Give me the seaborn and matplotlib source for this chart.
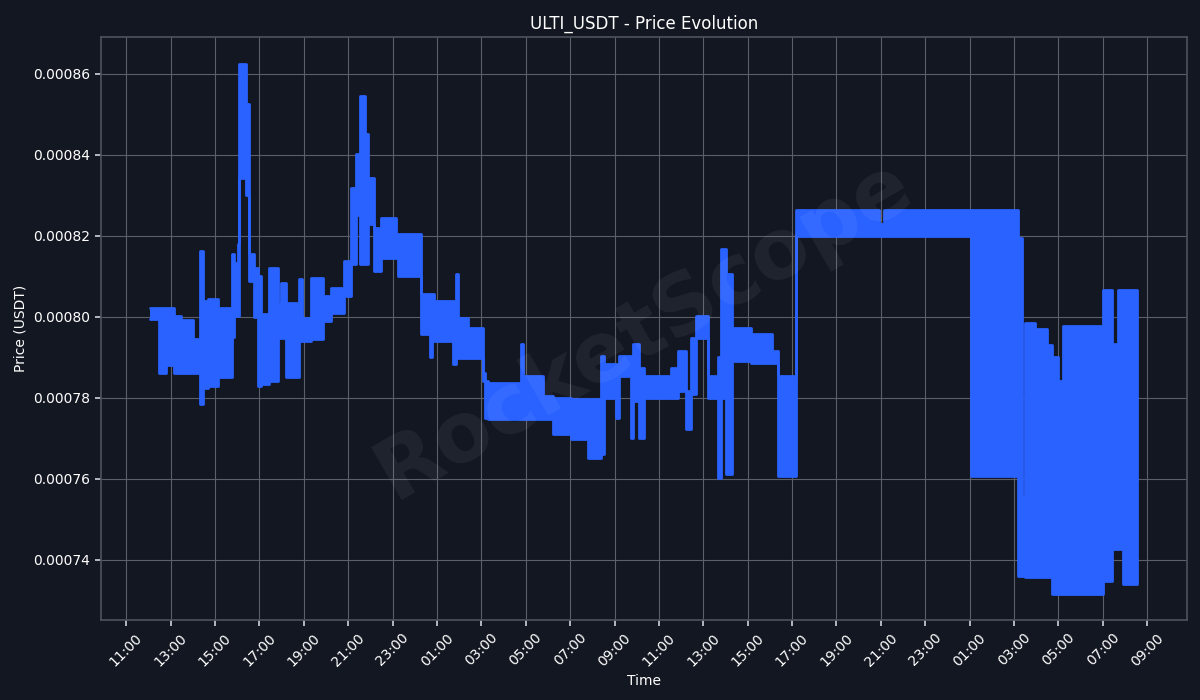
import matplotlib.pyplot as plt
import matplotlib.dates as mdates
import numpy as np
import pandas as pd
import seaborn as sns

# price ranges: each step starts at `hours` (after 11:00 on day 1)
# and the price swings between `low_micro` and `high_micro` (in 1e-6 USDT) until the next step
hours = [1.08, 1.49, 1.80, 2.16, 2.48, 3.02, 3.33, 3.45, 3.69, 4.14,
         4.77, 4.86, 5.05, 5.09, 5.31, 5.40, 5.54, 5.76, 5.94, 6.08,
         6.44, 6.84, 6.98, 7.20, 7.79, 7.92, 8.33, 8.87, 9.23, 9.81,
         10.13, 10.35, 10.53, 10.76, 10.89, 11.16, 11.48, 12.15, 12.24, 13.28,
         13.68, 13.77, 13.86, 14.72, 14.85, 14.94, 15.39, 16.07, 16.16, 16.30,
         17.78, 17.87, 18.77, 19.22, 20.03, 20.80, 21.38, 21.52, 22.06, 22.20,
         22.74, 22.82, 23.09, 23.32, 24.53, 24.85, 25.21, 25.43, 25.66, 26.20,
         26.65, 26.78, 27.01, 27.28, 28.13, 29.08, 29.35, 30.16, 33.90, 34.12,
         38.04, 40.20, 40.38, 40.51, 40.96, 41.50, 41.73, 42.00, 42.22, 44.02,
         44.43, 44.70, 44.92, 45.56]
low_micro = [799.5, 786.0, 788.0, 786.0, 786.0, 786.0, 778.5, 782.5, 783.0, 785.0,
             795.0, 800.2, 800.2, 834.3, 838.0, 830.0, 808.9, 800.0, 783.0, 783.5,
             784.2, 794.8, 794.8, 785.0, 794.0, 794.1, 794.6, 799.0, 801.0, 805.0,
             813.0, 825.0, 813.1, 813.0, 823.0, 811.4, 814.6, 815.1, 810.0, 795.8,
             790.0, 795.8, 794.1, 788.4, 795.0, 789.9, 789.9, 784.2, 775.1, 774.8,
             774.8, 774.8, 774.8, 771.1, 769.9, 765.2, 766.0, 780.0, 775.0, 785.4,
             770.0, 779.3, 770.1, 780.0, 780.0, 781.7, 772.3, 781.0, 794.8, 780.0,
             760.2, 780.0, 761.2, 789.1, 788.6, 788.6, 760.7, 820.0, 820.0, 820.0,
             760.7, 736.0, 736.0, 735.8, 735.8, 735.8, 731.6, 731.6, 731.6, 734.8,
             742.7, 742.7, 734.1, 736.0]
high_micro = [802.2, 802.2, 802.2, 800.2, 799.3, 794.6, 816.3, 803.9, 804.4, 802.2,
              815.6, 813.3, 818.0, 862.5, 862.5, 852.6, 815.6, 812.0, 810.0, 800.7,
              812.1, 803.2, 808.4, 803.5, 809.4, 799.8, 809.6, 805.2, 807.2, 813.8,
              831.9, 840.2, 854.6, 845.0, 834.3, 822.0, 824.4, 820.5, 820.5, 805.7,
              805.7, 805.7, 803.9, 803.9, 810.6, 799.8, 797.3, 786.0, 784.2, 783.7,
              793.3, 785.4, 780.5, 780.0, 779.8, 779.8, 790.4, 788.4, 788.4, 790.4,
              790.0, 793.3, 787.4, 785.4, 787.4, 791.6, 781.7, 794.8, 800.2, 785.4,
              790.0, 816.8, 810.6, 797.3, 795.8, 791.6, 785.4, 826.4, 823.0, 826.4,
              826.4, 819.5, 755.8, 798.5, 797.0, 793.0, 790.0, 784.2, 797.8, 806.7,
              793.3, 806.7, 806.7, 736.0]

BG = '#131722'
BLUE = '#2962ff'

sns.set_theme(style='darkgrid', rc={
    'figure.facecolor': BG,
    'axes.facecolor': BG,
    'axes.edgecolor': '#4c505b',
    'grid.color': '#5b5f69',
    'grid.linewidth': 0.8,
    'text.color': 'white',
    'axes.labelcolor': 'white',
    'xtick.color': 'white',
    'ytick.color': 'white',
    'xtick.bottom': True,
    'ytick.left': True,
})
plt.rcParams['font.family'] = ['DejaVu Sans']

base = pd.Timestamp('2025-06-14 11:00')
df = pd.DataFrame({
    'time': base + pd.to_timedelta(hours, unit='h'),
    'low': np.array(low_micro) * 1e-6,
    'high': np.array(high_micro) * 1e-6,
})
edges = df.melt(id_vars='time', value_vars=['low', 'high'],
                var_name='edge', value_name='price')

fig, ax = plt.subplots(figsize=(12, 7), dpi=100)
fig.subplots_adjust(left=0.084, right=0.989, top=0.947, bottom=0.114)

ax.fill_between(df['time'], df['low'], df['high'], step='post',
                color=BLUE, linewidth=0)
sns.lineplot(data=edges, x='time', y='price', hue='edge',
             palette=[BLUE, BLUE], estimator=None, legend=False,
             drawstyle='steps-post', linewidth=2, ax=ax)

ax.text(0.5, 0.5, 'RocketScope', transform=ax.transAxes, ha='center', va='center',
        rotation=30, fontsize=60, fontweight='bold', color='white', alpha=0.06)

ax.xaxis.set_major_locator(mdates.HourLocator(byhour=range(1, 24, 2)))
ax.xaxis.set_major_formatter(mdates.DateFormatter('%H:%M'))
plt.setp(ax.get_xticklabels(), rotation=45)
ax.tick_params(axis='both', labelsize=10, length=4, color='#c8cbd2')
for s in ax.spines.values():
    s.set_color('#4c505b')

ax.set_title('ULTI_USDT - Price Evolution', fontsize=12, color='white')
ax.set_xlabel('Time', fontsize=10)
ax.set_ylabel('Price (USDT)', fontsize=10)

fig.savefig('out.png', facecolor=BG)
